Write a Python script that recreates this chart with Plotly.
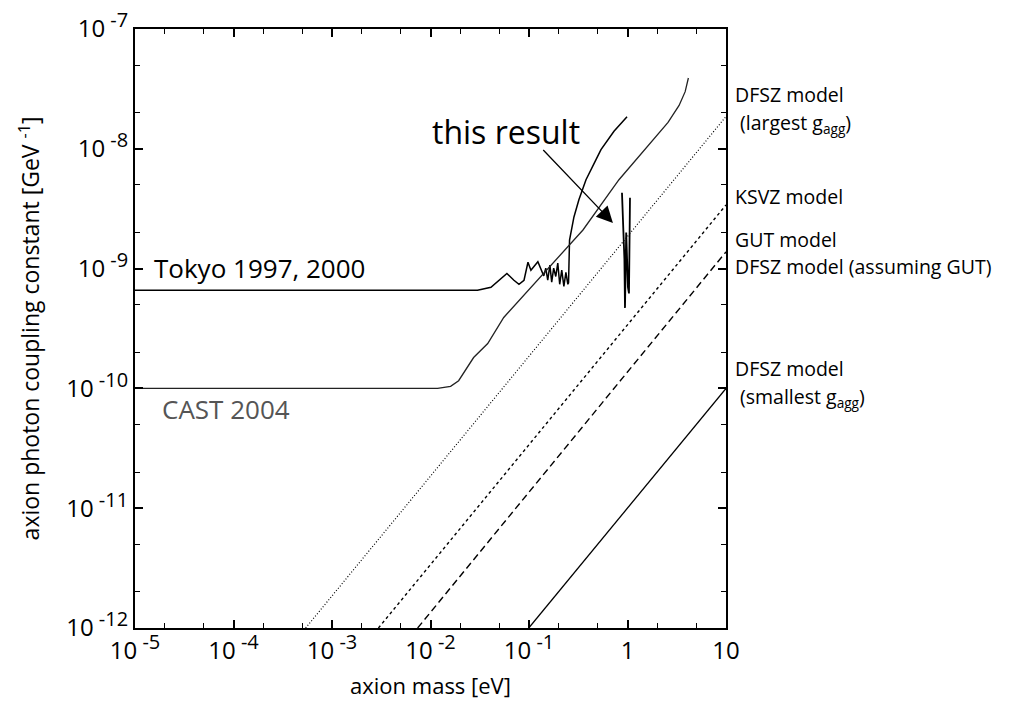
import plotly.graph_objects as go

# ---------------- data ----------------
tokyo_m = [1e-5, 0.030, 0.0411, 0.0519, 0.0597, 0.0703, 0.0791, 0.089, 0.0976, 0.1046,
           0.123, 0.1412, 0.148, 0.155, 0.163, 0.170, 0.178, 0.187, 0.196, 0.205,
           0.215, 0.226, 0.237, 0.248, 0.252, 0.258, 0.286, 0.321, 0.379, 0.479,
           0.538, 0.729, 0.989]
tokyo_g = [6.6e-10, 6.6e-10, 6.98e-10, 8.3e-10, 9.1e-10, 8.0e-10, 7.4e-10, 8.0e-10, 1.13e-9, 9.7e-10,
           1.14e-9, 8.7e-10, 1.01e-9, 8.0e-10, 1.07e-9, 7.7e-10, 1.01e-9, 8.6e-10, 1.11e-9, 7.4e-10,
           9.7e-10, 7.1e-10, 9.3e-10, 7.4e-10, 7.6e-10, 1.73e-9, 2.70e-9, 3.75e-9, 5.52e-9, 8.11e-9,
           9.84e-9, 1.40e-8, 1.85e-8]

cast_m = [1e-5, 0.0118, 0.0160, 0.0193, 0.0274, 0.0381, 0.0554, 0.0886, 0.155, 0.248,
          0.353, 0.819, 2.58, 3.34, 3.85, 4.15]
cast_g = [1.0e-10, 1.0e-10, 1.04e-10, 1.16e-10, 1.81e-10, 2.37e-10, 3.91e-10, 5.98e-10, 9.9e-10, 1.51e-9,
          2.10e-9, 5.52e-9, 1.66e-8, 2.3e-8, 3.0e-8, 3.9e-8]

result_m = [0.879, 0.90, 0.93, 0.943, 0.955, 0.97, 0.99, 1.01, 1.035, 1.045, 1.06]
result_g = [4.3e-9, 2.5e-9, 1.2e-9, 4.7e-10, 1.0e-9, 2.0e-9, 1.2e-9, 7.0e-10, 6.2e-10, 2.0e-9, 3.9e-9]

dfsz_large_m = [5.4e-4, 10]
dfsz_large_g = [1e-12, 1.86e-8]
ksvz_m = [2.96e-3, 10]
ksvz_g = [1e-12, 3.4e-9]
gut_m = [7.4e-3, 10]
gut_g = [1e-12, 1.38e-9]
dfsz_small_m = [0.0995, 10]
dfsz_small_g = [1e-12, 1.0e-10]

SUP = '<sup><span style="font-size:20px"> {}</span></sup>'
x_tickvals = [1e-5, 1e-4, 1e-3, 1e-2, 1e-1, 1, 10]
x_exponents = ["-5", "-4", "-3", "-2", "-1"]
x_ticktext = ["10" + SUP.format(e) for e in x_exponents] + ["1", "10"]
y_tickvals = [1e-12, 1e-11, 1e-10, 1e-9, 1e-8, 1e-7]
y_exponents = ["-12", "-11", "-10", "-9", "-8", "-7"]
y_ticktext = ["10" + SUP.format(e) for e in y_exponents]
x_minor = [m * 10 ** e for e in range(-5, 1) for m in (2, 5)]
y_minor = [m * 10 ** e for e in range(-12, -7) for m in (2, 5)]

FONT = "Open Sans"

fig = go.Figure()
fig.add_trace(go.Scatter(x=tokyo_m, y=tokyo_g, mode="lines",
                         line=dict(color="black", width=1.5)))
fig.add_trace(go.Scatter(x=cast_m, y=cast_g, mode="lines",
                         line=dict(color="#222", width=1.3)))
fig.add_trace(go.Scatter(x=result_m, y=result_g, mode="lines",
                         line=dict(color="black", width=1.8)))
fig.add_trace(go.Scatter(x=dfsz_large_m, y=dfsz_large_g, mode="lines",
                         line=dict(color="black", width=1.2, dash="1px,2px")))
fig.add_trace(go.Scatter(x=ksvz_m, y=ksvz_g, mode="lines",
                         line=dict(color="black", width=1.4, dash="3px,3px")))
fig.add_trace(go.Scatter(x=gut_m, y=gut_g, mode="lines",
                         line=dict(color="black", width=1.4, dash="7px,4px")))
fig.add_trace(go.Scatter(x=dfsz_small_m, y=dfsz_small_g, mode="lines",
                         line=dict(color="black", width=1.3)))

axis_common = dict(type="log", showgrid=False, zeroline=False, showline=True,
                   linecolor="black", linewidth=2, mirror="allticks",
                   ticks="inside", ticklen=8, tickwidth=1.5, tickcolor="black",
                   tickfont=dict(family=FONT, size=24, color="black"),
                   tickmode="array", ticklabeloverflow="allow", automargin=False)

fig.update_xaxes(**axis_common, range=[-5, 1], tickvals=x_tickvals, ticktext=x_ticktext,
                 minor=dict(tickmode="array", tickvals=x_minor, ticks="inside",
                            ticklen=5, tickwidth=1.2, tickcolor="black"),
                 title=dict(text="axion mass [eV]", font=dict(family=FONT, size=22, color="black"),
                            standoff=14))
fig.update_yaxes(**axis_common, range=[-12, -7], tickvals=y_tickvals, ticktext=y_ticktext,
                 minor=dict(tickmode="array", tickvals=y_minor, ticks="inside",
                            ticklen=5, tickwidth=1.2, tickcolor="black"),
                 title=dict(text="axion photon coupling constant [GeV <sup>-1</sup>]",
                            font=dict(family=FONT, size=23, color="black"), standoff=20))

ann = []
ann.append(dict(x=-4.827, y=-8.997, xref="x", yref="y", text="Tokyo 1997, 2000",
                showarrow=False, xanchor="left", yanchor="middle",
                font=dict(family=FONT, size=26, color="black")))
ann.append(dict(x=-4.746, y=-10.17, xref="x", yref="y", text="CAST 2004",
                showarrow=False, xanchor="left", yanchor="middle",
                font=dict(family=FONT, size=26, color="#555")))
ann.append(dict(x=-1.236, y=-7.856, xref="x", yref="y", text="this result",
                showarrow=False, xanchor="center", yanchor="middle",
                font=dict(family=FONT, size=32, color="black")))
ann.append(dict(x=-0.148, y=-8.619, xref="x", yref="y", ax=-0.870, ay=-7.998,
                axref="x", ayref="y", text="", showarrow=True, arrowhead=2,
                arrowsize=2.5, arrowwidth=1.3, arrowcolor="black"))

right_labels = [
    ("DFSZ model", -7.55, 0),
    ("(largest g<sub>agg</sub>)", -7.79, 5),
    ("KSVZ model", -8.401, 0),
    ("GUT model", -8.755, 0),
    ("DFSZ model (assuming GUT)", -8.985, 0),
    ("DFSZ model", -9.835, 0),
    ("(smallest g<sub>agg</sub>)", -10.075, 5),
]
for txt, yv, ind in right_labels:
    ann.append(dict(x=1, y=yv, xref="paper", yref="y", text=txt, showarrow=False,
                    xanchor="left", yanchor="middle", xshift=8 + ind, borderpad=0,
                    font=dict(family=FONT, size=19.5, color="black")))

fig.update_layout(width=1027, height=702, showlegend=False,
                  paper_bgcolor="white", plot_bgcolor="white",
                  margin=dict(l=135, r=301, t=29, b=74, autoexpand=False),
                  annotations=ann)

# remove the page's default 8px body margin so the figure fills the window exactly
fig.write_html("out.html", config={"displayModeBar": False},
               post_script="document.body.style.margin='0px';")
